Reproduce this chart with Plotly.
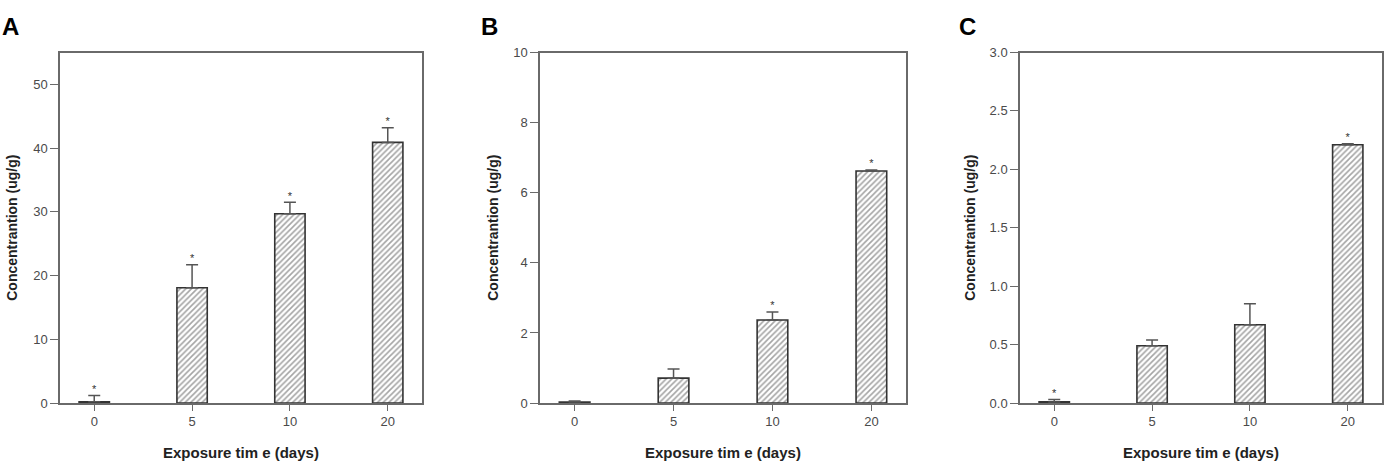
import plotly.graph_objects as go

days = ["0", "5", "10", "20"]

a_mean = [0.2, 18.1, 29.7, 40.9]
a_err = [1.0, 3.6, 1.8, 2.3]
a_star = [True, True, True, True]

b_mean = [0.03, 0.71, 2.37, 6.62]
b_err = [0.03, 0.26, 0.23, 0.03]
b_star = [False, False, True, True]

c_mean = [0.01, 0.49, 0.67, 2.21]
c_err = [0.02, 0.05, 0.18, 0.01]
c_star = [True, False, False, True]

y_ranges = [[0, 55], [0, 10], [0, 3.0]]
y_dticks = [10, 2, 0.5]
y_formats = ["d", "d", ".1f"]
panel_letters = ["A", "B", "C"]

W, H = 1389, 474
x_domains = [[60 / W, 422 / W], [540 / W, 906 / W], [1020 / W, 1382 / W]]
y_domain = [1 - 409 / H, 1 - 47 / H]

axis_col = "#6a6a6a"
text_col = "#4a4a4a"
bar_line = "#333333"
font_fam = "Liberation Sans, Arial, sans-serif"

fig = go.Figure()
panels = [(a_mean, a_err, a_star), (b_mean, b_err, b_star), (c_mean, c_err, c_star)]

for i, (mean, err, star) in enumerate(panels):
    xa = "x" if i == 0 else f"x{i+1}"
    ya = "y" if i == 0 else f"y{i+1}"
    fig.add_trace(go.Bar(
        x=days, y=mean, width=0.31, xaxis=xa, yaxis=ya,
        marker=dict(color="white",
                    line=dict(color=bar_line, width=1.6),
                    pattern=dict(shape="/", fgcolor="#4a4a4a", bgcolor="white",
                                 size=4, solidity=0.4)),
        error_y=dict(type="data", symmetric=False, array=err,
                     arrayminus=[0] * len(err), color="#555555",
                     thickness=1.5, width=6),
        showlegend=False, hoverinfo="skip",
    ))
    sx = [d for d, s in zip(days, star) if s]
    sy = [m + e for m, e, s in zip(mean, err, star) if s]
    fig.add_trace(go.Scatter(
        x=sx, y=sy, xaxis=xa, yaxis=ya, mode="text", text=["*"] * len(sx),
        textposition="top center",
        textfont=dict(size=11, color="#333333", family=font_fam),
        showlegend=False, hoverinfo="skip",
    ))

    xkey = "xaxis" if i == 0 else f"xaxis{i+1}"
    ykey = "yaxis" if i == 0 else f"yaxis{i+1}"
    fig.update_layout(**{
        xkey: dict(
            domain=x_domains[i], anchor=ya, type="category", range=[-0.35, 3.35],
            showline=True, linecolor=axis_col, linewidth=1.5, mirror=True,
            ticks="outside", ticklen=6, tickwidth=1.2, tickcolor=axis_col,
            showgrid=False, zeroline=False,
            tickfont=dict(size=13, color=text_col, family=font_fam),
        ),
        ykey: dict(
            domain=y_domain, anchor=xa, range=y_ranges[i], dtick=y_dticks[i], tick0=0,
            tickformat=y_formats[i],
            showline=True, linecolor=axis_col, linewidth=1.5, mirror=True,
            ticks="outside", ticklen=8, tickwidth=1.2, tickcolor=axis_col,
            showgrid=False, zeroline=False,
            tickfont=dict(size=13, color=text_col, family=font_fam),
        ),
    })

    x0, x1 = x_domains[i]
    fig.add_annotation(
        text=f"<b>{panel_letters[i]}</b>", xref="paper", yref="paper",
        x=[0 / W, 479 / W, 957 / W][i], y=1 - 20 / H, xanchor="left", yanchor="middle",
        showarrow=False, font=dict(size=24, color="black", family=font_fam),
    )
    fig.add_annotation(
        text="<b>Concentrantion (ug/g)</b>", xref="paper", yref="paper",
        x=[12 / W, 493 / W, 970 / W][i], y=1 - 228 / H, textangle=-90,
        xanchor="center", yanchor="middle", showarrow=False,
        font=dict(size=14, color="#222222", family=font_fam),
    )
    fig.add_annotation(
        text="<b>Exposure tim e (days)</b>", xref="paper", yref="paper",
        x=(x0 + x1) / 2, y=1 - 460 / H, xanchor="center", yanchor="middle",
        showarrow=False, font=dict(size=15, color="#222222", family=font_fam),
    )

fig.update_layout(
    width=W, height=H, margin=dict(l=0, r=0, t=0, b=0),
    paper_bgcolor="white", plot_bgcolor="white", bargap=0.5,
    font=dict(family=font_fam),
)

fig.write_html("out.html")
